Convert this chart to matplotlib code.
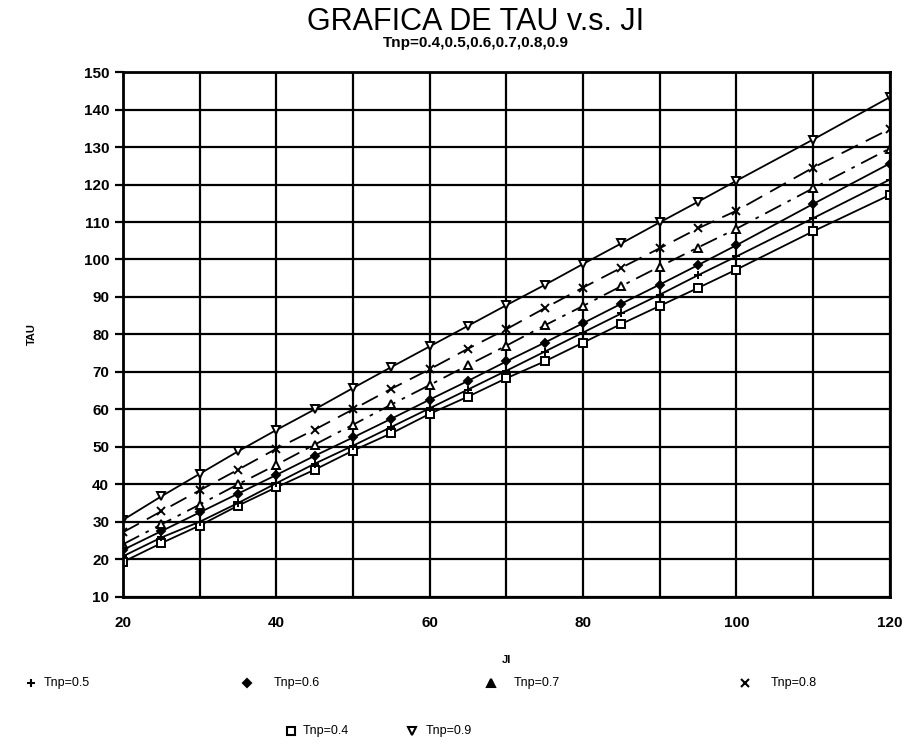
import matplotlib.pyplot as plt
from matplotlib.lines import Line2D
import numpy as np

plt.rcParams['font.family'] = ['Liberation Sans', 'DejaVu Sans']

# --- datos ---
ji = [20, 25, 30, 35, 40, 45, 50, 55, 60, 65, 70, 75, 80, 85, 90, 95, 100, 110, 120]

tau_04 = [19.3, 24.3, 29.0, 34.3, 39.2, 43.9, 49.0, 53.6, 58.8, 63.4, 68.3, 72.8, 77.8, 82.8, 87.6, 92.4, 97.3, 107.5, 117.2]
tau_05 = [20.8, 25.8, 30.0, 35.0, 40.3, 45.5, 50.3, 55.3, 60.3, 65.3, 70.3, 75.4, 80.5, 85.6, 90.6, 95.8, 100.8, 111.0, 121.3]
tau_06 = [22.5, 27.5, 32.5, 37.5, 42.5, 47.6, 52.5, 57.5, 62.6, 67.6, 72.8, 77.8, 83.0, 88.2, 93.3, 98.5, 103.8, 114.8, 125.6]
tau_07 = [24.0, 29.3, 34.6, 40.0, 45.2, 50.6, 55.9, 61.3, 66.5, 71.8, 77.0, 82.4, 87.6, 92.9, 98.1, 103.2, 108.2, 119.0, 129.6]
tau_08 = [27.2, 32.8, 38.4, 43.9, 49.5, 54.6, 60.0, 65.5, 70.7, 76.2, 81.4, 87.0, 92.5, 97.8, 103.0, 108.3, 113.0, 124.5, 134.8]
tau_09 = [30.5, 36.8, 42.8, 48.8, 54.5, 60.0, 65.7, 71.3, 76.8, 82.3, 87.8, 93.2, 98.8, 104.3, 109.9, 115.4, 121.0, 132.0, 143.3]

x_ticks = [20, 40, 60, 80, 100, 120]
y_ticks = list(range(10, 151, 10))

# serie: (valores, marcador, estilo de linea, etiqueta)
series = [
    (tau_04, 's', '-', 'Tnp=0.4'),
    (tau_05, '+', '-', 'Tnp=0.5'),
    (tau_06, 'D', '-', 'Tnp=0.6'),
    (tau_07, '^', (0, (10, 4, 2, 4)), 'Tnp=0.7'),
    (tau_08, 'x', (0, (10, 5)), 'Tnp=0.8'),
    (tau_09, 'v', '-', 'Tnp=0.9'),
]

fig = plt.figure(figsize=(9.05, 7.44), dpi=100)
ax = fig.add_axes([0.136, 0.198, 0.847, 0.705])

for vals, mk, ls, lab in series:
    filled = mk in ('D', '+', 'x')
    ax.plot(ji, vals, color='black', linewidth=1.3, linestyle=ls,
            marker=mk, markersize=6 if mk != 'D' else 4.5,
            markerfacecolor='black' if filled else 'white',
            markeredgecolor='black', markeredgewidth=1.4, label=lab)

ax.set_xlim(20, 120)
ax.set_ylim(10, 150)
ax.set_xticks(np.arange(20, 121, 10))
ax.set_xticklabels([str(v) if v in x_ticks else '' for v in range(20, 121, 10)])
ax.set_yticks(y_ticks)
ax.set_yticklabels([str(v) for v in y_ticks])
ax.grid(True, color='black', linewidth=1.6)
for sp in ax.spines.values():
    sp.set_linewidth(2)
ax.tick_params(axis='y', direction='out', length=6, width=1.6, labelsize=11, pad=4)
ax.tick_params(axis='x', direction='out', length=0, labelsize=11, pad=14)
for t in ax.get_xticklabels() + ax.get_yticklabels():
    t.set_fontweight('bold')

ax.set_xlabel('JI', fontsize=8, fontweight='bold', labelpad=18)
ax.set_ylabel('TAU', fontsize=8, fontweight='bold', labelpad=34)

fig.text(0.526, 0.970, 'GRAFICA DE TAU v.s. JI', ha='center', va='center', fontsize=22)
fig.text(0.526, 0.942, 'Tnp=0.4,0.5,0.6,0.7,0.8,0.9', ha='center', va='center',
         fontsize=11, fontweight='bold')

# leyenda manual debajo del grafico
leg_items = [
    ('+', 0.034, 0.082, 'Tnp=0.5', 0.048),
    ('D', 0.273, 0.082, 'Tnp=0.6', 0.302),
    ('^', 0.543, 0.082, 'Tnp=0.7', 0.568),
    ('x', 0.823, 0.082, 'Tnp=0.8', 0.852),
    ('s', 0.322, 0.017, 'Tnp=0.4', 0.334),
    ('v', 0.455, 0.017, 'Tnp=0.9', 0.470),
]
for mk, mx, my, txt, tx in leg_items:
    filled = mk in ('D', '+', 'x', '^')
    fig.add_artist(Line2D([mx], [my], transform=fig.transFigure, marker=mk,
                          markersize=6 if mk != 'D' else 4.5, color='black',
                          markerfacecolor='black' if filled else 'white',
                          markeredgewidth=1.5, linestyle='none'))
    fig.text(tx, my, txt, ha='left', va='center', fontsize=9)

fig.savefig('out.png', dpi=100)
